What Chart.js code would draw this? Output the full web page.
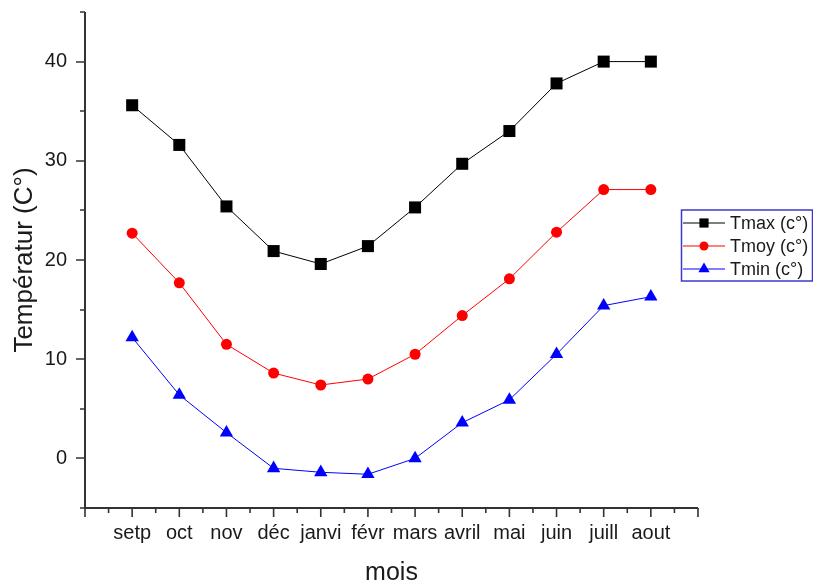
<!DOCTYPE html>
<html>
<head>
<meta charset="utf-8">
<script src="https://cdn.jsdelivr.net/npm/chart.js@4.4.1/dist/chart.umd.min.js"></script>
<style>
  html, body { margin: 0; padding: 0; background: #fff; }
  #wrap { width: 813px; height: 583px; position: relative; }
</style>
</head>
<body>
<div id="wrap"><canvas id="c"></canvas></div>
<script>
// Monthly temperatures, September to August
const months = ['setp', 'oct', 'nov', 'déc', 'janvi', 'févr', 'mars', 'avril', 'mai', 'juin', 'juill', 'aout'];
const tmax = [35.6, 31.6, 25.4, 20.9, 19.6, 21.4, 25.3, 29.7, 33.0, 37.8, 40.0, 40.0];
const tmoy = [22.7, 17.7, 11.5, 8.6, 7.4, 8.0, 10.5, 14.4, 18.1, 22.8, 27.1, 27.1];
const tmin = [12.2, 6.4, 2.6, -1.0, -1.4, -1.6, 0.0, 3.6, 5.9, 10.5, 15.4, 16.3];
const seriesNames = ['Tmax (c°)', 'Tmoy (c°)', 'Tmin (c°)'];
const yTickLabels = [0, 10, 20, 30, 40];

const FONT = "'Liberation Sans', Arial, Helvetica, sans-serif";
const INK = '#1a1a1a';

// months are placed at x = 1..12 on a 0..13 linear axis
const toPoints = vals => vals.map((v, i) => ({ x: i + 1, y: v }));

function marker(ctx, style, x, y, r, color) {
  ctx.fillStyle = color;
  ctx.beginPath();
  if (style === 'rect') {
    const s = r * Math.SQRT1_2;
    ctx.rect(x - s, y - s, 2 * s, 2 * s);
  } else if (style === 'circle') {
    ctx.arc(x, y, r, 0, Math.PI * 2);
  } else {
    ctx.moveTo(x, y - r);
    ctx.lineTo(x + r * Math.sqrt(3) / 2, y + r / 2);
    ctx.lineTo(x - r * Math.sqrt(3) / 2, y + r / 2);
    ctx.closePath();
  }
  ctx.fill();
}

// Axis lines with long major / short minor tick marks, pointing outward
const axisFrame = {
  id: 'axisFrame',
  afterDraw(chart) {
    const { ctx, chartArea: a, scales: { x, y } } = chart;
    ctx.save();
    ctx.strokeStyle = '#333';
    ctx.lineWidth = 2;
    ctx.beginPath();
    ctx.moveTo(a.left, a.top);
    ctx.lineTo(a.left, a.bottom);
    ctx.lineTo(a.right, a.bottom);
    ctx.stroke();
    ctx.lineWidth = 1.6;
    ctx.beginPath();
    for (let v = y.min; v <= y.max + 1e-9; v += 5) {
      const py = Math.round(y.getPixelForValue(v));
      const len = v % 10 === 0 ? 9 : 5;
      ctx.moveTo(a.left, py);
      ctx.lineTo(a.left - len, py);
    }
    for (let v = x.min; v <= x.max + 1e-9; v += 0.5) {
      const px = x.getPixelForValue(v);
      const len = Number.isInteger(v) ? 9 : 5;
      ctx.moveTo(px, a.bottom);
      ctx.lineTo(px, a.bottom + len);
    }
    ctx.stroke();
    ctx.restore();
  }
};

// Boxed legend sitting at the right edge
const boxLegend = {
  id: 'boxLegend',
  afterDraw(chart) {
    const { ctx } = chart;
    const bx = 681.5, by = 210, bw = 131, bh = 71;
    ctx.save();
    ctx.strokeStyle = '#3a3acc';
    ctx.lineWidth = 1.5;
    ctx.strokeRect(bx, by, bw, bh);
    chart.data.datasets.forEach((ds, i) => {
      const cy = 223 + i * 23;
      ctx.strokeStyle = ds.borderColor;
      ctx.lineWidth = 1.2;
      ctx.beginPath();
      ctx.moveTo(683, cy);
      ctx.lineTo(725, cy);
      ctx.stroke();
      marker(ctx, ds.pointStyle, 704, cy, ds.legendRadius, ds.borderColor);
      ctx.fillStyle = INK;
      ctx.font = '18px ' + FONT;
      ctx.textBaseline = 'middle';
      ctx.textAlign = 'left';
      ctx.fillText(ds.label, 730, cy + 1);
    });
    ctx.restore();
  }
};

const styles = [
  { color: '#000000', pointStyle: 'rect', radius: 8.5, legendRadius: 6.5 },
  { color: '#ff0000', pointStyle: 'circle', radius: 5.5, legendRadius: 4.5 },
  { color: '#0000ff', pointStyle: 'triangle', radius: 7.7, legendRadius: 6.5 }
];
const series = [tmax, tmoy, tmin];

new Chart(document.getElementById('c'), {
  type: 'line',
  data: {
    datasets: series.map((vals, i) => ({
      label: seriesNames[i],
      data: toPoints(vals),
      borderColor: styles[i].color,
      backgroundColor: styles[i].color,
      borderWidth: 1,
      pointStyle: styles[i].pointStyle,
      pointRadius: styles[i].radius,
      pointHoverRadius: styles[i].radius,
      pointBorderWidth: 0,
      legendRadius: styles[i].legendRadius,
      tension: 0
    }))
  },
  options: {
    responsive: true,
    maintainAspectRatio: false,
    animation: false,
    layout: { padding: { top: 12, right: 115, left: 0, bottom: 0 } },
    plugins: { legend: { display: false }, tooltip: { enabled: false } },
    scales: {
      x: {
        type: 'linear',
        min: 0,
        max: 13,
        afterFit: s => { s.height = 75; s.paddingLeft = 0; s.paddingRight = 0; },
        grid: { display: false, drawTicks: false },
        border: { display: false },
        ticks: {
          stepSize: 1,
          autoSkip: false,
          maxRotation: 0,
          padding: 13,
          color: INK,
          font: { family: FONT, size: 20 },
          callback: v => (Number.isInteger(v) && v >= 1 && v <= 12) ? months[v - 1] : ''
        },
        title: {
          display: true,
          text: 'mois',
          color: INK,
          font: { family: FONT, size: 25 },
          padding: { top: 0, bottom: -5 }
        }
      },
      y: {
        min: -5,
        max: 45,
        afterFit: s => { s.width = 85; s.paddingTop = 0; s.paddingBottom = 0; },
        grid: { display: false, drawTicks: false },
        border: { display: false },
        ticks: {
          stepSize: 5,
          autoSkip: false,
          padding: 18,
          color: INK,
          font: { family: FONT, size: 20 },
          callback: v => yTickLabels.includes(v) ? String(v) : ''
        },
        title: {
          display: true,
          text: 'Températur (C°)',
          color: INK,
          font: { family: FONT, size: 26 },
          padding: { top: 9, bottom: 0 }
        }
      }
    }
  },
  plugins: [axisFrame, boxLegend]
});
</script>
</body>
</html>
